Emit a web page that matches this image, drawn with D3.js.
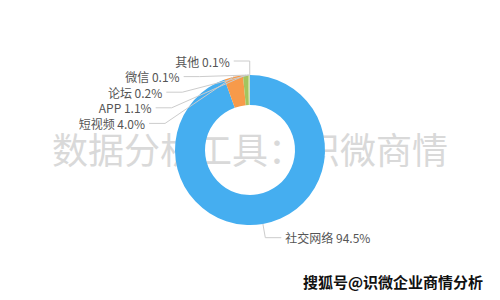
<!DOCTYPE html>
<html>
<head>
<meta charset="utf-8">
<script src="https://cdn.jsdelivr.net/npm/d3@7"></script>
<style>
  body { margin: 0; background: #fff; }
  text { font-family: "Noto Sans CJK SC", "Noto Sans", sans-serif; }
</style>
</head>
<body>
<div id="chart"></div>
<script>
// channel share, clockwise from 12 o'clock
const categories = ["社交网络", "短视频", "APP", "论坛", "微信", "其他"];
const values = [94.5, 4.0, 1.1, 0.2, 0.1, 0.1];
const colors = ["#45aef0", "#f79a4a", "#a3c55e", "#b9d87c", "#d8cf8a", "#9fd0c8"];

const width = 500, height = 300;
const cx = width / 2, cy = height / 2;
const outerR = 75, innerR = 45;
const len1 = 14, len2 = 16, gap = 4, lineH = 15.6;

const svg = d3.select("#chart").append("svg")
    .attr("width", width)
    .attr("height", height);

// watermark behind the ring
svg.append("text")
    .attr("x", cx)
    .attr("y", cy - 2)
    .attr("text-anchor", "middle")
    .attr("dominant-baseline", "central")
    .attr("font-size", 36)
    .attr("fill", "#d9d9d9")
    .text("数据分析工具：识微商情");

const data = categories.map((c, i) => ({ name: c, value: values[i], color: colors[i] }));

const pie = d3.pie().sort(null).value(d => d.value);
const arcs = pie(data);

const arc = d3.arc().innerRadius(innerR).outerRadius(outerR);

const g = svg.append("g").attr("transform", `translate(${cx},${cy})`);

g.selectAll("path")
    .data(arcs).enter()
    .append("path")
    .attr("d", arc)
    .attr("fill", d => d.data.color);

// label layout: start on a circle just outside the ring, then push apart
const R = outerR + len1;
const labels = arcs.map(a => {
    const mid = (a.startAngle + a.endAngle) / 2;
    return {
        name: a.data.name,
        value: a.data.value,
        p0: [Math.sin(mid) * outerR, -Math.cos(mid) * outerR],
        x: Math.sin(mid) * R,
        y: -Math.cos(mid) * R,
        left: Math.sin(mid) < 0
    };
});

[true, false].forEach(side => {
    const group = labels.filter(l => l.left === side).sort((a, b) => a.y - b.y);
    for (let i = 1; i < group.length; i++) {
        if (group[i].y < group[i - 1].y + lineH) group[i].y = group[i - 1].y + lineH;
    }
    group.forEach(l => {
        const dy = Math.min(Math.abs(l.y), R);
        const dx = Math.sqrt(R * R - dy * dy);
        l.x = side ? -dx : dx;
    });
});

const line = d3.line();

g.selectAll("path.lead")
    .data(labels).enter()
    .append("path")
    .attr("class", "lead")
    .attr("fill", "none")
    .attr("stroke", "#cccccc")
    .attr("stroke-width", 1)
    .attr("d", l => line([l.p0, [l.x, l.y], [l.x + (l.left ? -len2 : len2), l.y]]));

g.selectAll("text.lbl")
    .data(labels).enter()
    .append("text")
    .attr("class", "lbl")
    .attr("x", l => l.x + (l.left ? -(len2 + gap) : len2 + gap))
    .attr("y", l => l.y)
    .attr("text-anchor", l => l.left ? "end" : "start")
    .attr("dominant-baseline", "central")
    .attr("font-size", 12)
    .attr("fill", "#555")
    .text(l => `${l.name} ${l.value.toFixed(1)}%`);

// source stamp
svg.append("text")
    .attr("x", 483)
    .attr("y", 281)
    .attr("text-anchor", "end")
    .attr("dominant-baseline", "central")
    .attr("font-size", 15)
    .attr("font-weight", "bold")
    .attr("fill", "#111")
    .attr("stroke", "#fff")
    .attr("stroke-width", 2)
    .attr("paint-order", "stroke")
    .text("搜狐号@识微企业商情分析");
</script>
</body>
</html>
